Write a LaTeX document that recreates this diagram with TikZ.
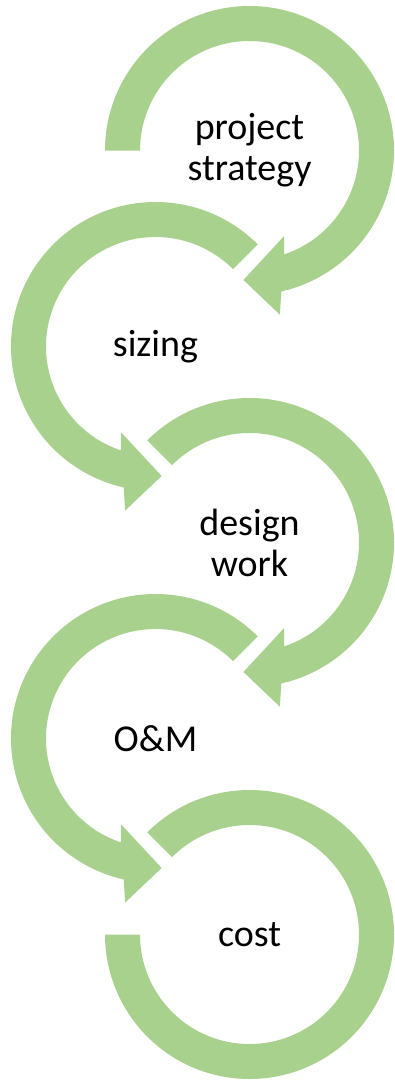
\documentclass[tikz,border=0pt]{standalone}
\usepackage{fontspec}
\setmainfont{Carlito}
\definecolor{bandgreen}{RGB}{169,209,142}
\tikzset{every picture/.style={line width=0.75pt}}
\tikzset{
  band/.style={fill=bandgreen, draw=none},
  steplabel/.style={font=\fontsize{38}{41}\selectfont, align=center, text=black, inner sep=0pt}
}

\begin{document}
\begin{tikzpicture}[x=1pt,y=1pt,yscale=-1,xscale=1]
\useasboundingbox (0,0) rectangle (394,1081);

%Centres of the five rings
\coordinate (c1) at (249.5,150.5);
\coordinate (c2) at (155.5,346.5);
\coordinate (c3) at (249.5,542.5);
\coordinate (c4) at (155.5,738.5);
\coordinate (c5) at (249.5,934.5);

%Shape: Circular Arrow [ring 1]
\fill [band, shift={(c1)}] (180:144.5) arc[start angle=180, end angle=437.3, radius=144.5] -- (439.5:167) -- (452.7:129.6) -- (427.9:92.3) -- (431.6:109.5) arc[start angle=431.6, end angle=180, radius=109.5] -- cycle ;
%Shape: Circular Arrow [ring 2]
\fill [band, shift={(c2)}] (-45:144.5) arc[start angle=-45, end angle=-257.3, radius=144.5] -- (-259.5:167) -- (-272.7:129.6) -- (-247.9:92.3) -- (-251.6:109.5) arc[start angle=-251.6, end angle=-45, radius=109.5] -- cycle ;
%Shape: Circular Arrow [ring 3]
\fill [band, shift={(c3)}] (225:144.5) arc[start angle=225, end angle=437.3, radius=144.5] -- (439.5:167) -- (452.7:129.6) -- (427.9:92.3) -- (431.6:109.5) arc[start angle=431.6, end angle=225, radius=109.5] -- cycle ;
%Shape: Circular Arrow [ring 4]
\fill [band, shift={(c4)}] (-45:144.5) arc[start angle=-45, end angle=-257.3, radius=144.5] -- (-259.5:167) -- (-272.7:129.6) -- (-247.9:92.3) -- (-251.6:109.5) arc[start angle=-251.6, end angle=-45, radius=109.5] -- cycle ;
%Shape: Arc [ring 5]
\fill [band, shift={(c5)}] (225:144.5) arc[start angle=225, end angle=540, radius=144.5] -- (540:109.5) arc[start angle=540, end angle=225, radius=109.5] -- cycle ;

% Text Node
\node [steplabel] (strategy) at (c1) {project\\strategy};
% Text Node
\node [steplabel] (sizing) at (c2) {sizing};
% Text Node
\node [steplabel] (design) at (c3) {design\\work};
% Text Node
\node [steplabel] (om) at (c4) {O\&M};
% Text Node
\node [steplabel] (cost) at (c5) {cost};

\end{tikzpicture}
\end{document}
